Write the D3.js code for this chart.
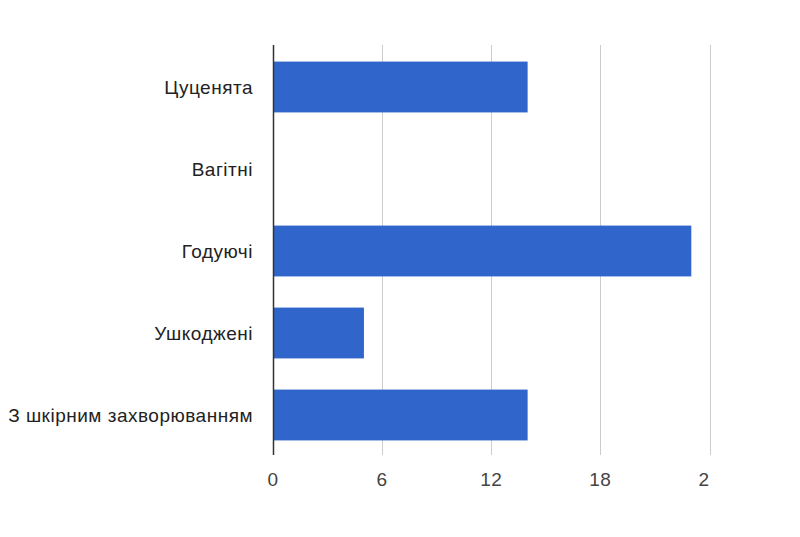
<!DOCTYPE html>
<html><head><meta charset="utf-8">
<script src="https://cdn.jsdelivr.net/npm/d3@7"></script>
<style>body{margin:0;background:#fff}</style>
</head><body>
<svg id="c" width="800" height="537"></svg>
<script>
const categories = ["Цуценята","Вагітні","Годуючі","Ушкоджені","З шкірним захворюванням"];
const values = [14, 0, 23, 5, 14];
const tickValues = [0, 6, 12, 18, 24];
const tickLabels = ["0", "6", "12", "18", "2"];

(function () {
const svg = d3.select("#c");
const pLeft = 273, pRight = 709.5, pTop = 45, pBottom = 455;
const x = d3.scaleLinear().domain([0, 24]).range([pLeft, pRight]);
const y = d3.scaleBand().domain(categories).range([pTop, pBottom]).paddingInner(0.38).paddingOuter(0.19);
const font = "Liberation Sans, Arial, sans-serif";

// gridlines
svg.append("g").selectAll("line").data(tickValues.slice(1)).join("line")
  .attr("x1", d => Math.round(x(d)) + 0.5).attr("x2", d => Math.round(x(d)) + 0.5)
  .attr("y1", pTop).attr("y2", pBottom)
  .attr("stroke", "#cccccc").attr("stroke-width", 1);

// bars
svg.append("g").selectAll("rect").data(values).join("rect")
  .attr("x", x(0)).attr("y", (d, i) => y(categories[i]) + 1)
  .attr("width", d => x(d) - x(0)).attr("height", y.bandwidth())
  .attr("fill", "#3066cc");

// axis line
svg.append("line").attr("x1", pLeft + 0.5).attr("x2", pLeft + 0.5)
  .attr("y1", pTop).attr("y2", pBottom).attr("stroke", "#333").attr("stroke-width", 1.5);

// category labels
svg.append("g").selectAll("text").data(categories).join("text")
  .attr("x", 253).attr("y", d => y(d) + y.bandwidth() / 2 + 1)
  .attr("dy", "0.35em").attr("text-anchor", "end")
  .attr("font-family", font).attr("font-size", 19).attr("letter-spacing", 0.5)
  .attr("fill", "#222").text(d => d);

// tick labels
svg.append("g").selectAll("text").data(tickValues).join("text")
  .attr("x", d => x(d))
  .attr("y", 479).attr("dy", "0.35em")
  .attr("text-anchor", (d, i) => i === tickValues.length - 1 ? "end" : "middle")
  .attr("font-family", font).attr("font-size", 19).attr("letter-spacing", 0.5)
  .attr("fill", "#444").text((d, i) => tickLabels[i]);
})();
</script>
</body></html>
